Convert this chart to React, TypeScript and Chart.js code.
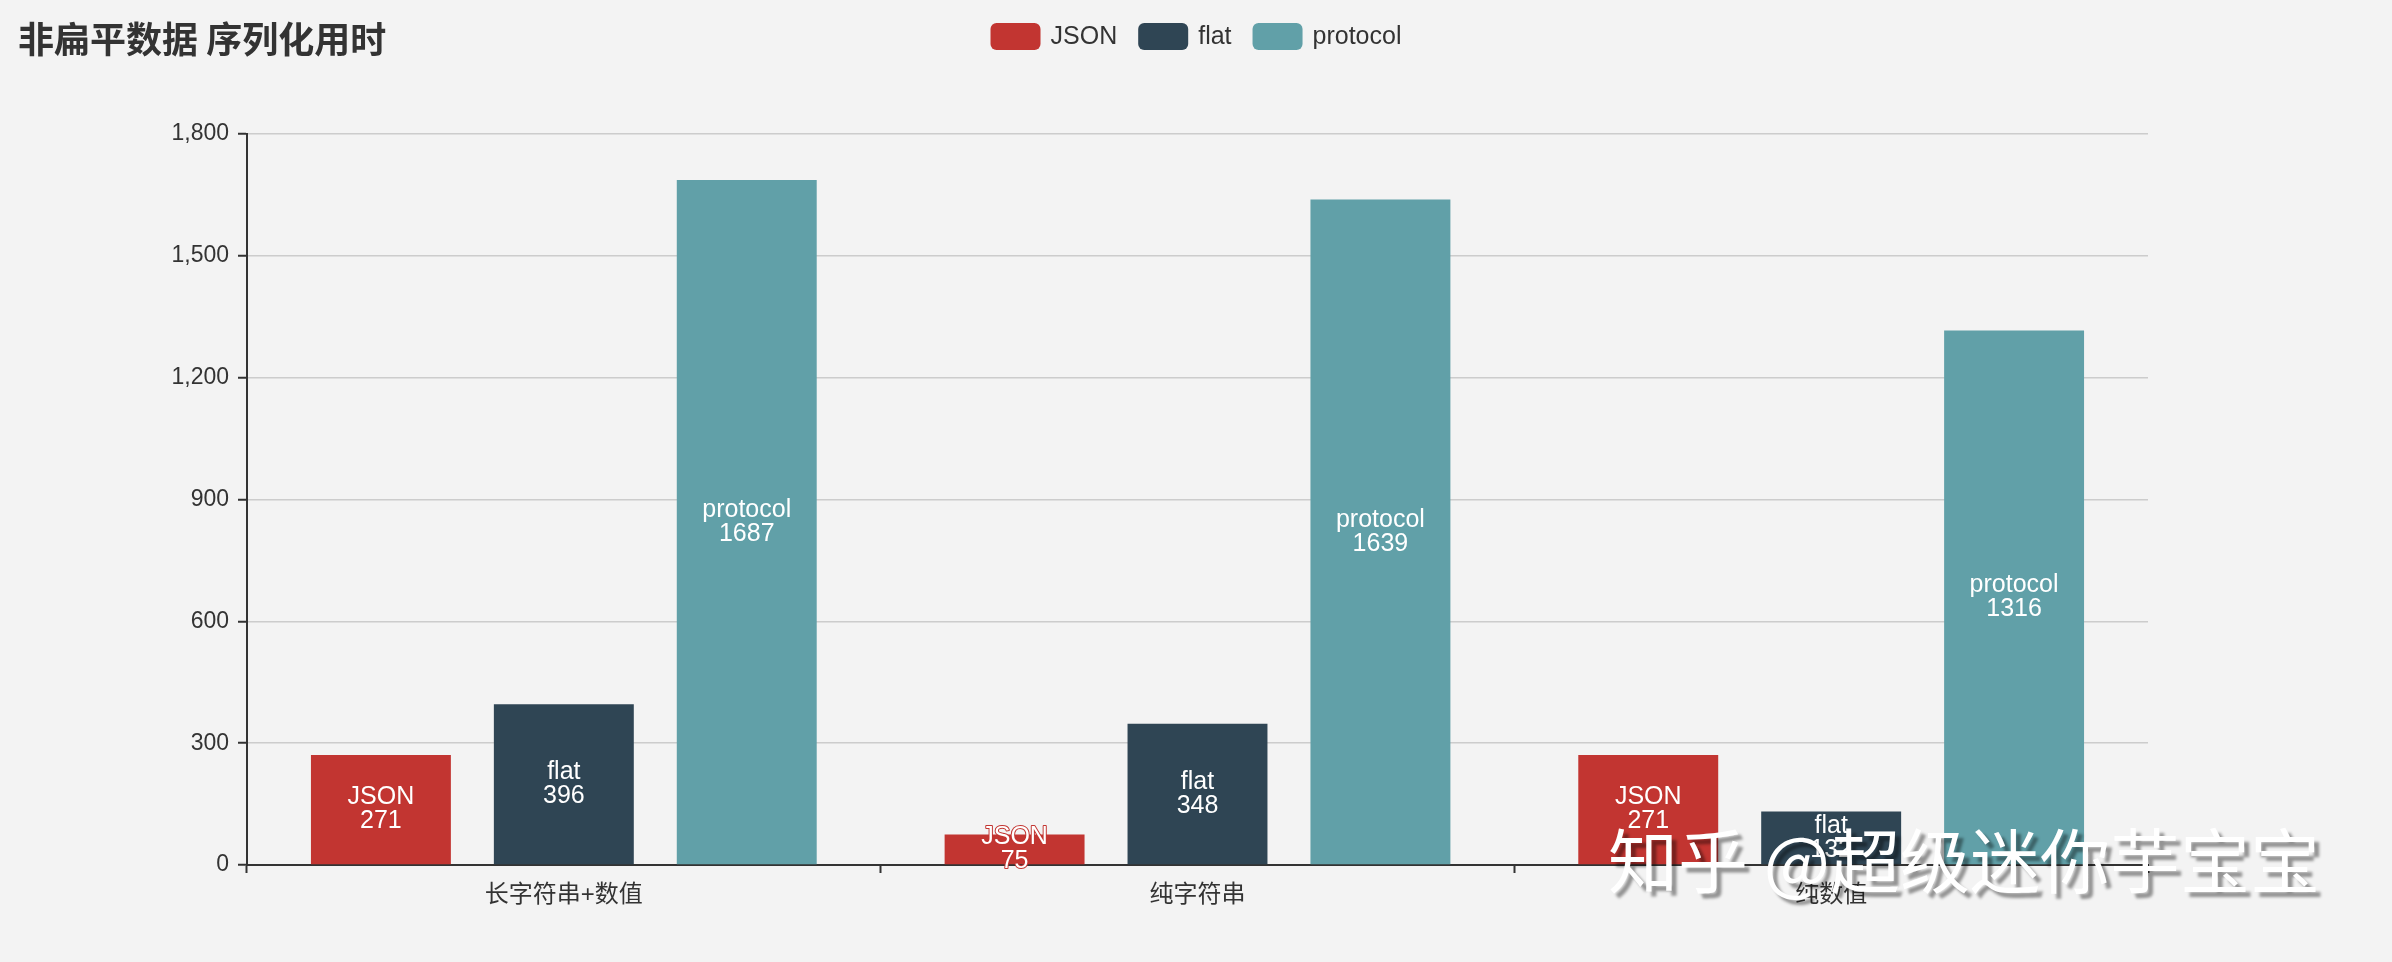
import { useEffect, useRef } from 'react';
import { Chart, registerables } from 'chart.js';

Chart.register(...registerables);

const chartTitle = '非扁平数据 序列化用时';
const watermark = '知乎 @超级迷你芋宝宝';

const categories = ['长字符串+数值', '纯字符串', '纯数值'];
const seriesNames = ['JSON', 'flat', 'protocol'];
const jsonTimes = [271, 75, 271];
const flatTimes = [396, 348, 132];
const protocolTimes = [1687, 1639, 1316];
const seriesColors = ['#c23531', '#2f4554', '#61a0a8'];
const yTicks = [0, 300, 600, 900, 1200, 1500, 1800];

const FONT = "'Liberation Sans', Arial, 'Noto Sans CJK SC', sans-serif";
const BG = '#f3f3f3';

// title + legend drawn on one row at the top, like the echarts original
const headerPlugin = {
  id: 'header',
  afterDraw(chart: any) {
    const { ctx, width } = chart;
    ctx.save();
    ctx.textBaseline = 'middle';
    ctx.textAlign = 'left';
    ctx.fillStyle = '#333';
    ctx.font = "bold 36px 'Noto Sans CJK SC', sans-serif";
    ctx.fillText(chartTitle, 18, 39);

    ctx.font = `25px ${FONT}`;
    const boxW = 50, boxH = 27, gap = 10, itemGap = 21;
    const items = chart.data.datasets.map((ds: any) => ({
      text: ds.label,
      color: ds.backgroundColor,
      w: ctx.measureText(ds.label).width,
    }));
    const total = items.reduce((s: number, it: any) => s + boxW + gap + it.w, 0) + itemGap * (items.length - 1);
    let x = (width - total) / 2;
    items.forEach((it: any) => {
      ctx.fillStyle = it.color;
      ctx.beginPath();
      ctx.roundRect(x, 23, boxW, boxH, 6);
      ctx.fill();
      ctx.fillStyle = '#333';
      ctx.fillText(it.text, x + boxW + gap, 37);
      x += boxW + gap + it.w + itemGap;
    });
    ctx.restore();
  },
};

// "name\nvalue" labels in the middle of each bar
const barLabelPlugin = {
  id: 'barLabels',
  afterDatasetsDraw(chart: any) {
    const { ctx } = chart;
    ctx.save();
    ctx.font = `25px ${FONT}`;
    ctx.textAlign = 'center';
    ctx.textBaseline = 'middle';
    ctx.lineJoin = 'round';
    ctx.lineWidth = 2;
    chart.data.datasets.forEach((ds: any, i: number) => {
      const meta = chart.getDatasetMeta(i);
      meta.data.forEach((bar: any, j: number) => {
        const { x, y, base } = bar.getProps(['x', 'y', 'base'], true);
        const cy = (y + base) / 2;
        const lines = [ds.label, String(ds.data[j])];
        lines.forEach((t, k) => {
          const ty = cy + (k - 0.5) * 24;
          ctx.strokeStyle = ds.backgroundColor;
          ctx.strokeText(t, x, ty);
          ctx.fillStyle = '#fff';
          ctx.fillText(t, x, ty);
        });
      });
    });
    ctx.restore();
  },
};

const watermarkPlugin = {
  id: 'watermark',
  afterDraw(chart: any) {
    const { ctx } = chart;
    ctx.save();
    ctx.font = "70px 'Noto Sans CJK SC', sans-serif";
    ctx.textAlign = 'left';
    ctx.textBaseline = 'middle';
    ctx.shadowColor = 'rgba(0,0,0,0.4)';
    ctx.shadowOffsetX = 5;
    ctx.shadowOffsetY = 5;
    ctx.shadowBlur = 3;
    ctx.fillStyle = '#fff';
    ctx.fillText(watermark, 1608, 861);
    ctx.restore();
  },
};

export default function App() {
  const chartRef = useRef<HTMLCanvasElement>(null);
  const chartInstance = useRef<Chart | null>(null);

  useEffect(() => {
    document.body.style.margin = '0';
    document.body.style.background = BG;
    if (!chartRef.current) return;
    if (chartInstance.current) chartInstance.current.destroy();

    const values = [jsonTimes, flatTimes, protocolTimes];

    chartInstance.current = new Chart(chartRef.current, {
      type: 'bar',
      data: {
        labels: categories,
        datasets: seriesNames.map((name, i) => ({
          label: name,
          data: values[i],
          backgroundColor: seriesColors[i],
          borderWidth: 0,
          categoryPercentage: 0.866,
          barPercentage: 0.765,
        })),
      },
      options: {
        responsive: true,
        maintainAspectRatio: false,
        animation: false,
        layout: { padding: { top: 134, left: 0, right: 244, bottom: 0 } },
        plugins: {
          legend: { display: false },
          title: { display: false },
          tooltip: { enabled: false },
        },
        scales: {
          x: {
            afterFit: (scale: any) => { scale.height = 97; },
            grid: {
              offset: true,
              drawOnChartArea: false,
              drawTicks: true,
              tickLength: 8,
              tickColor: '#333',
              tickWidth: 2,
            },
            border: { display: true, color: '#333', width: 2 },
            ticks: {
              color: '#333',
              padding: 8,
              font: { family: FONT, size: 24 },
            },
          },
          y: {
            min: 0,
            max: 1800,
            afterFit: (scale: any) => { scale.width = 247; },
            afterBuildTicks: (scale: any) => {
              scale.ticks = yTicks.map((v) => ({ value: v }));
            },
            grid: {
              color: '#cccccc',
              lineWidth: 1.5,
              drawTicks: true,
              tickLength: 9,
              tickColor: '#333',
              tickWidth: 2,
            },
            border: { display: true, color: '#333', width: 2 },
            ticks: {
              color: '#333',
              padding: 9,
              font: { family: FONT, size: 23 },
              callback: (v: any) => Number(v).toLocaleString('en-US'),
            },
          },
        },
      },
      plugins: [barLabelPlugin, headerPlugin, watermarkPlugin],
    });

    return () => {
      if (chartInstance.current) {
        chartInstance.current.destroy();
        chartInstance.current = null;
      }
    };
  }, []);

  return (
    <div style={{ width: 2392, height: 962, background: BG, position: 'relative' }}>
      <canvas ref={chartRef}></canvas>
    </div>
  );
}
